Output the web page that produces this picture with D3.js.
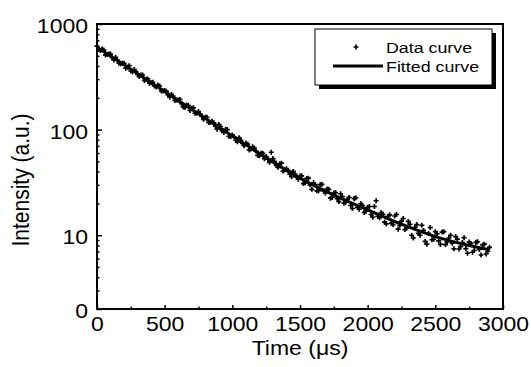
<!DOCTYPE html>
<html>
<head>
<meta charset="utf-8">
<script src="https://cdn.jsdelivr.net/npm/d3@7"></script>
<style>
  body { margin: 0; background: #fff; }
  text { font-family: "Liberation Sans", Arial, sans-serif; fill: #000; }
</style>
</head>
<body>
<svg id="chart" width="531" height="367"></svg>
<script>

// measured decay (time in microseconds, intensity in a.u.)
const dataTime = [
  0, 12.5, 25, 37.5, 50, 62.5, 75, 87.5, 100, 112.5, 125, 137.5, 150, 162.5, 175, 187.5, 200, 212.5, 225, 237.5,
  250, 262.5, 275, 287.5, 300, 312.5, 325, 337.5, 350, 362.5, 375, 387.5, 400, 412.5, 425, 437.5, 450, 462.5, 475, 487.5,
  500, 512.5, 525, 537.5, 550, 562.5, 575, 587.5, 600, 612.5, 625, 637.5, 650, 662.5, 675, 687.5, 700, 712.5, 725, 737.5,
  750, 762.5, 775, 787.5, 800, 812.5, 825, 837.5, 850, 862.5, 875, 887.5, 900, 912.5, 925, 937.5, 950, 962.5, 975, 987.5,
  1000, 1012.5, 1025, 1037.5, 1050, 1062.5, 1075, 1087.5, 1100, 1112.5, 1125, 1137.5, 1150, 1162.5, 1175, 1187.5, 1200, 1212.5, 1225, 1237.5,
  1250, 1262.5, 1275, 1287.5, 1300, 1312.5, 1325, 1337.5, 1350, 1362.5, 1375, 1387.5, 1400, 1412.5, 1425, 1437.5, 1450, 1462.5, 1475, 1487.5,
  1500, 1512.5, 1525, 1537.5, 1550, 1562.5, 1575, 1587.5, 1600, 1612.5, 1625, 1637.5, 1650, 1662.5, 1675, 1687.5, 1700, 1712.5, 1725, 1737.5,
  1750, 1762.5, 1775, 1787.5, 1800, 1812.5, 1825, 1837.5, 1850, 1862.5, 1875, 1887.5, 1900, 1912.5, 1925, 1937.5, 1950, 1962.5, 1975, 1987.5,
  2000, 2012.5, 2025, 2037.5, 2050, 2062.5, 2075, 2087.5, 2100, 2112.5, 2125, 2137.5, 2150, 2162.5, 2175, 2187.5, 2200, 2212.5, 2225, 2237.5,
  2250, 2262.5, 2275, 2287.5, 2300, 2312.5, 2325, 2337.5, 2350, 2362.5, 2375, 2387.5, 2400, 2412.5, 2425, 2437.5, 2450, 2462.5, 2475, 2487.5,
  2500, 2512.5, 2525, 2537.5, 2550, 2562.5, 2575, 2587.5, 2600, 2612.5, 2625, 2637.5, 2650, 2662.5, 2675, 2687.5, 2700, 2712.5, 2725, 2737.5,
  2750, 2762.5, 2775, 2787.5, 2800, 2812.5, 2825, 2837.5, 2850, 2862.5, 2875, 2887.5, 2900
];
const dataIntensity = [
  617, 575, 561, 580, 566, 510, 515, 521, 520, 479, 457, 484, 456, 425, 420, 424, 424, 382, 390, 403,
  359, 354, 371, 354, 333, 318, 329, 329, 292, 299, 302, 275, 278, 281, 259, 253, 264, 258, 232, 232,
  234, 231, 213, 203, 215, 208, 189, 191, 191, 193, 176, 164, 162, 171, 169, 152, 159, 161, 143, 143,
  148, 141, 133, 125, 131, 131, 117, 117, 120, 116, 108, 101, 112, 107, 97.3, 93.9, 100.5, 100, 86.3, 86.2,
  89.1, 86.0, 79.3, 76.6, 83.9, 79.3, 73.9, 70.5, 74.6, 72.8, 64.2, 65.6, 68.7, 66.9, 62.6, 57.0, 56.4, 59.7, 59.6, 53.1,
  55.6, 52.4, 49.0, 61.0, 53.2, 49.7, 45.9, 43.9, 47.5, 48.1, 40.5, 41.5, 42.5, 41.2, 37.9, 35.8, 40.2, 37.9, 35.4, 33.9,
  36.3, 36.5, 30.8, 31.3, 34.5, 34.7, 30.0, 27.2, 31.3, 30.1, 26.3, 26.4, 30.1, 30.3, 26.2, 25.1, 27.4, 27.2, 22.4, 22.8,
  25.1, 25.3, 22.2, 20.8, 24.7, 23.2, 20.1, 20.5, 21.8, 22.8, 19.1, 17.9, 22.2, 22.6, 18.3, 17.6, 19.9, 19.1, 16.4, 16.9,
  18.4, 18.7, 15.7, 14.8, 18.7, 21.2, 15.1, 14.6, 16.4, 15.8, 13.3, 12.8, 15.1, 15.6, 13.0, 12.6, 15.2, 15.7, 11.4, 12.4,
  13.6, 14.4, 11.3, 11.7, 13.5, 12.7, 9.98, 9.40, 11.9, 12.6, 10.4, 9.98, 12.4, 11.1, 8.73, 8.22, 10.4, 11.8, 9.06, 9.14,
  10.8, 10.3, 8.85, 8.18, 10.7, 10.8, 8.15, 8.65, 9.40, 9.98, 8.41, 7.43, 9.70, 9.18, 7.40, 7.85, 8.53, 9.48, 7.46, 6.75,
  8.61, 8.36, 6.89, 7.16, 8.55, 8.67, 7.33, 6.49, 8.09, 8.22, 6.64, 7.05, 7.67
];

// fitted curve
const fitTime = [0, 250, 500, 750, 1000, 1250, 1500, 1750, 2000, 2250, 2500, 2750, 2900];
const fitIntensity = [603, 372, 229, 141, 87, 54, 34.7, 24, 17.4, 12.7, 9.7, 8.0, 7.3];

// axes
const xTickValues = [0, 500, 1000, 1500, 2000, 2500, 3000];
const xMinorTicks = [250, 750, 1250, 1750, 2250, 2750];
const yTickValues = [2, 10, 100, 1000];
const yTickLabels = ["0", "10", "100", "1000"];
const yMinorTicks = [3, 4, 5, 6, 7, 8, 9, 20, 30, 40, 50, 60, 70, 80, 90, 200, 300, 400, 500, 600, 700, 800, 900];

const legendLabels = ["Data curve", "Fitted curve"];

// the source figure is a bit stretched sideways, so text gets the same stretch
const SX = 1.15;
const FONT = "Liberation Sans, Arial, sans-serif";

const margin = { top: 24, left: 97 };
const width = 406;
const height = 285;

const svg = d3.select("#chart");
const g = svg.append("g")
    .attr("transform", "translate(" + margin.left + "," + margin.top + ")");

const x = d3.scaleLinear().domain([0, 3000]).range([0, width]);
const y = d3.scaleLog().domain([2, 1000]).range([height, 0]);

// x axis, ticks pointing inward
const xAxis = g.append("g")
    .attr("transform", "translate(0," + height + ")")
    .call(d3.axisBottom(x).tickValues(xTickValues).tickSizeInner(-4).tickSizeOuter(0)
        .tickFormat(d3.format("d")));
xAxis.selectAll("text")
    .attr("y", null).attr("dy", null)
    .attr("transform", "translate(0,22) scale(" + SX + ",1)");
g.append("g")
    .attr("transform", "translate(0," + height + ")")
    .call(d3.axisBottom(x).tickValues(xMinorTicks).tickSizeInner(-2.5).tickSizeOuter(0).tickFormat(""));

// y axis
const yAxis = g.append("g")
    .call(d3.axisLeft(y).tickValues(yTickValues).tickSizeInner(-5).tickSizeOuter(0)
        .tickFormat((d, i) => yTickLabels[i]));
yAxis.selectAll("text")
    .attr("x", null).attr("dy", null)
    .attr("transform", "translate(-9,8.5) scale(" + SX + ",1)");
g.append("g")
    .call(d3.axisLeft(y).tickValues(yMinorTicks).tickSizeInner(-2.5).tickSizeOuter(0).tickFormat(""));

g.selectAll(".domain").remove();
g.selectAll(".tick line").attr("stroke-width", 1.5);
g.selectAll(".tick text").attr("fill", "#000");
xAxis.attr("font-size", 20).attr("font-family", FONT);
yAxis.attr("font-size", 20).attr("font-family", FONT);

// frame
g.append("rect")
    .attr("width", width).attr("height", height)
    .attr("fill", "none").attr("stroke", "#000").attr("stroke-width", 2);

// data points
const marker = d3.symbol().type(d3.symbolCross).size(14);
g.append("g")
    .selectAll("path")
    .data(dataTime)
    .join("path")
    .attr("d", marker)
    .attr("fill", "#000")
    .attr("transform", (d, i) => "translate(" + x(d) + "," + y(dataIntensity[i]) + ")");

// fitted curve
const line = d3.line()
    .x((d, i) => x(d))
    .y((d, i) => y(fitIntensity[i]))
    .curve(d3.curveMonotoneX);
g.append("path")
    .datum(fitTime)
    .attr("fill", "none")
    .attr("stroke", "#000")
    .attr("stroke-width", 3)
    .attr("d", line);

// axis titles
svg.append("text")
    .attr("transform", "translate(300,355) scale(" + SX + ",1)")
    .attr("text-anchor", "middle")
    .attr("font-size", 20)
    .text("Time (\u03bcs)");

svg.append("text")
    .attr("transform", "translate(29,180) rotate(-90) scale(1," + SX + ")")
    .attr("text-anchor", "middle")
    .attr("font-size", 21)
    .text("Intensity (a.u.)");

// legend with drop shadow
const legend = svg.append("g").attr("transform", "translate(315,29)");
legend.append("rect")
    .attr("x", 4).attr("y", 4).attr("width", 177).attr("height", 56)
    .attr("fill", "#000");
legend.append("rect")
    .attr("width", 177).attr("height", 56)
    .attr("fill", "#fff").attr("stroke", "#000").attr("stroke-width", 1);
legend.append("path")
    .attr("d", marker)
    .attr("transform", "translate(41,18)");
legend.append("text")
    .attr("transform", "translate(71,24) scale(" + SX + ",1)")
    .attr("font-size", 15.5)
    .text(legendLabels[0]);
legend.append("line")
    .attr("x1", 18).attr("x2", 68).attr("y1", 37).attr("y2", 37)
    .attr("stroke", "#000").attr("stroke-width", 3);
legend.append("text")
    .attr("transform", "translate(71,43) scale(" + SX + ",1)")
    .attr("font-size", 15.5)
    .text(legendLabels[1]);

</script>
</body>
</html>
